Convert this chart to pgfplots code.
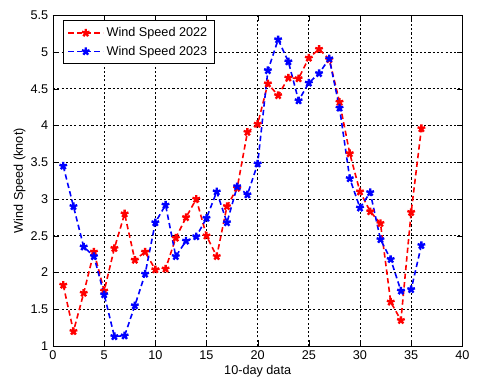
\documentclass[border=0pt]{standalone}
\usepackage{fontspec}
\setmainfont{Liberation Sans}
\usepackage{pgfplots}
\pgfplotsset{compat=1.18}
\begin{document}
\begin{tikzpicture}
\begin{axis}[
  at={(0,0)}, anchor=south west,
  scale only axis, width=307pt, height=248pt,
  xmin=0, xmax=40, ymin=1, ymax=5.5,
  xtick={0,5,...,40}, ytick={1,1.5,...,5.5},
  grid=major, major grid style={black, dash pattern=on 1.6pt off 1.6pt, line width=0.55pt},
  axis line style={black, line width=0.6pt},
  tick style={black}, tick align=inside,
  font=\fontsize{9.5}{11}\selectfont,
  /pgf/number format/assume math mode=true,
  yticklabel style={/pgf/number format/fixed},
  xlabel={10-day data}, ylabel={Wind Speed (knot)},
  xlabel style={yshift=3pt}, ylabel style={yshift=-3pt},
  legend style={at={(0.025,0.985)}, anchor=north west, draw=black, line width=0.6pt, font=\fontsize{9.5}{11}\selectfont, row sep=1.5pt, inner sep=3pt},
  legend cell align=left,
  legend image code/.code={\draw[#1, mark repeat=2, mark phase=2] plot coordinates {(0pt,0pt)(13pt,0pt)(26pt,0pt)};},
]
\addplot[red, dash pattern=on 4pt off 2.5pt, line width=1.2pt, mark=star, mark size=3pt, mark options={solid, line width=1.8pt}] coordinates {
(1,1.83)(2,1.20)(3,1.72)(4,2.28)(5,1.75)(6,2.33)(7,2.80)(8,2.17)(9,2.28)(10,2.04)
(11,2.05)(12,2.47)(13,2.75)(14,3.00)(15,2.50)(16,2.22)(17,2.90)(18,3.15)(19,3.91)(20,4.02)
(21,4.57)(22,4.41)(23,4.65)(24,4.64)(25,4.92)(26,5.04)(27,4.90)(28,4.32)(29,3.62)(30,3.10)
(31,2.83)(32,2.67)(33,1.60)(34,1.35)(35,2.82)(36,3.96)};
\addlegendentry{Wind Speed 2022}
\addplot[blue, dash pattern=on 4pt off 2.5pt, line width=1.2pt, mark=star, mark size=3pt, mark options={solid, line width=1.8pt}] coordinates {
(1,3.45)(2,2.90)(3,2.35)(4,2.22)(5,1.70)(6,1.13)(7,1.14)(8,1.55)(9,1.98)(10,2.68)
(11,2.92)(12,2.22)(13,2.43)(14,2.49)(15,2.74)(16,3.10)(17,2.68)(18,3.17)(19,3.06)(20,3.48)
(21,4.75)(22,5.17)(23,4.87)(24,4.34)(25,4.58)(26,4.71)(27,4.91)(28,4.24)(29,3.28)(30,2.88)
(31,3.09)(32,2.45)(33,2.18)(34,1.75)(35,1.77)(36,2.37)};
\addlegendentry{Wind Speed 2023}
\end{axis}
\path (-39.75pt,-32.25pt) rectangle (320.25pt,259.5pt);
\end{tikzpicture}
\end{document}
